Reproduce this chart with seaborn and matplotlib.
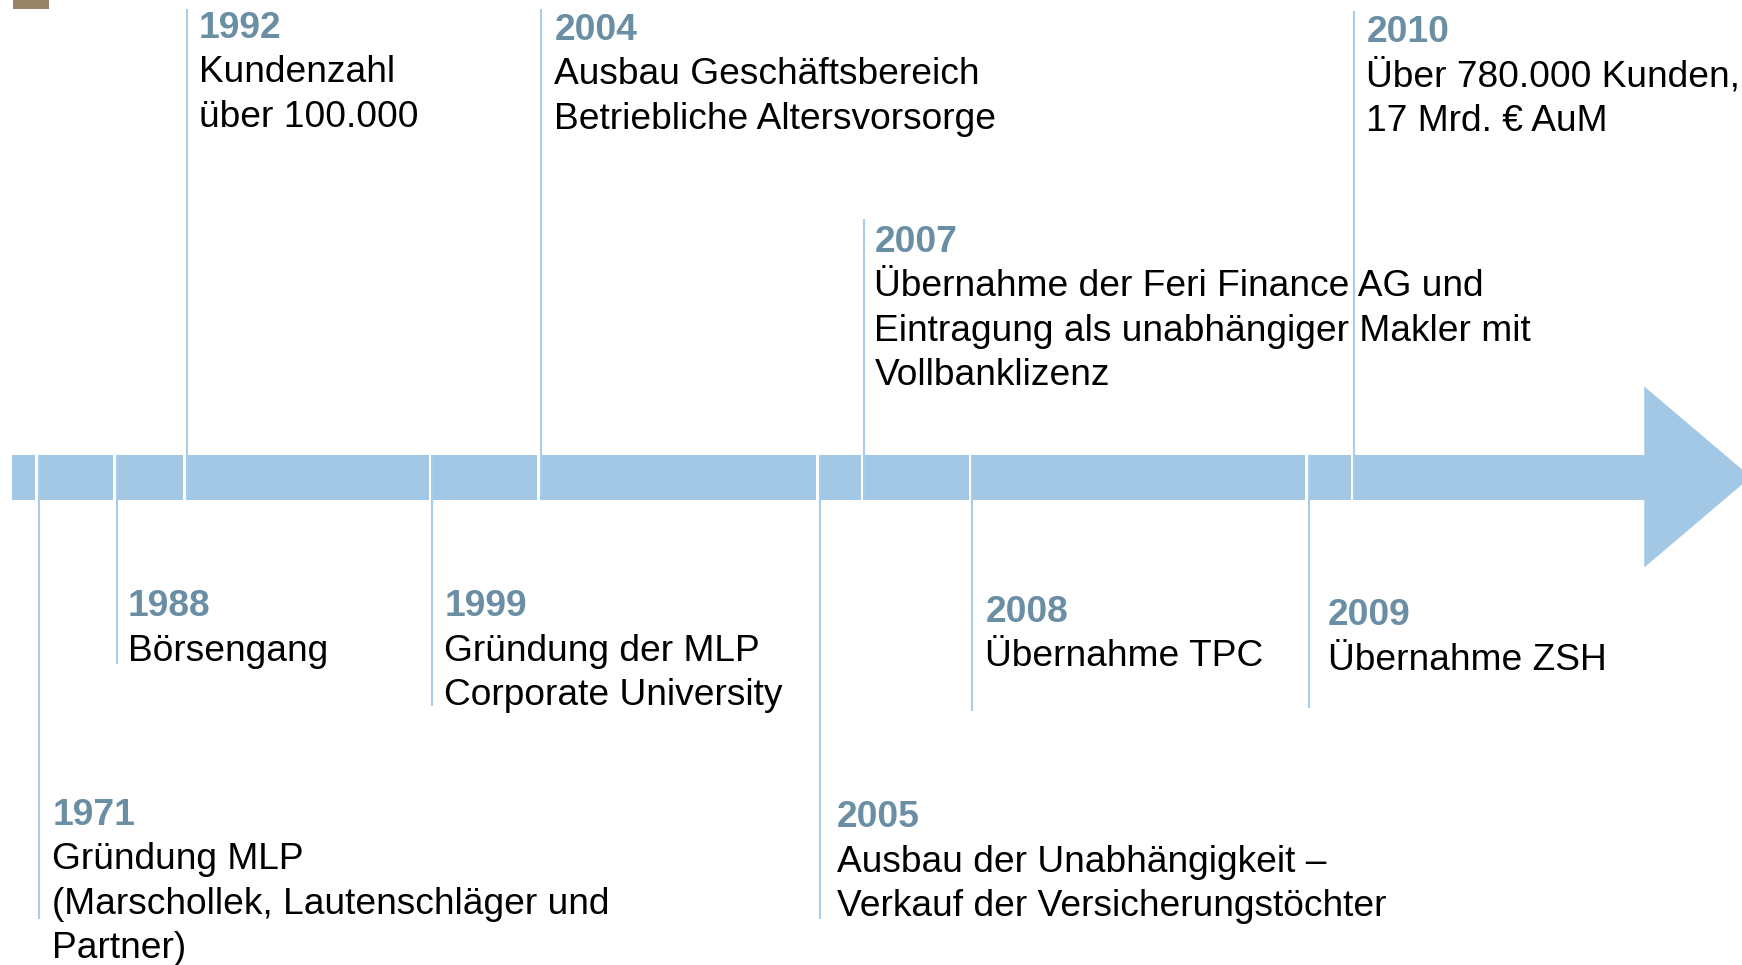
import matplotlib
matplotlib.use("Agg")
import matplotlib.pyplot as plt
from matplotlib.patches import Rectangle, Polygon
import seaborn as sns

# Daten: Meilensteine der MLP-Historie
years = ['1971', '1988', '1992', '1999', '2004', '2005', '2007', '2008', '2009', '2010']
texts = [
    ['Gründung MLP', '(Marschollek, Lautenschläger und', 'Partner)'],
    ['Börsengang'],
    ['Kundenzahl', 'über 100.000'],
    ['Gründung der MLP', 'Corporate University'],
    ['Ausbau Geschäftsbereich', 'Betriebliche Altersvorsorge'],
    ['Ausbau der Unabhängigkeit –', 'Verkauf der Versicherungstöchter'],
    ['Übernahme der Feri Finance AG und', 'Eintragung als unabhängiger Makler mit', 'Vollbanklizenz'],
    ['Übernahme TPC'],
    ['Übernahme ZSH'],
    ['Über 780.000 Kunden,', '17 Mrd. € AuM'],
]

# Layout (Bildkoordinaten, 1568 x 869 Raster)
line_x = [35, 105, 168, 389, 487, 738, 778, 875, 1178, 1219]
line_end = [828, 598, 8, 636, 8, 828, 197, 640, 638, 10]
text_x = [47, 115, 179, 400, 499, 753, 787, 887, 1195, 1230]
year_y = [731, 543, 22, 543, 24, 733, 215, 548, 551, 26]

bar_top, bar_bottom = 410, 450
bar_left, head_x = 11, 1481
head_top, head_bottom, tip_x = 348, 511, 1576

bar_color = '#a3c8e6'
line_color = '#a8cceb'
year_color = '#6a8ea3'

sns.set_theme(style='white')
plt.rcParams['font.family'] = ['Liberation Sans', 'DejaVu Sans']

fig = plt.figure(figsize=(17.42, 9.65), dpi=100)
ax = fig.add_axes([0, 0, 1, 1])
ax.set_xlim(0, 1568)
ax.set_ylim(869, 0)
ax.axis('off')

# Pfeil (Zeitstrahl)
ax.add_patch(Rectangle((bar_left, bar_top), head_x - bar_left, bar_bottom - bar_top,
                       facecolor=bar_color, edgecolor='none', zorder=1))
mid = (head_top + head_bottom) / 2
ax.add_patch(Polygon([(head_x - 1, head_top), (tip_x, mid), (head_x - 1, head_bottom)],
                     closed=True, facecolor=bar_color, edgecolor='none', zorder=1))

# kleines Quadrat oben links
ax.add_patch(Rectangle((12, 0), 32, 8, facecolor='#968469', edgecolor='none', zorder=1))

for i, yr in enumerate(years):
    x = line_x[i]
    # weisse Trennfuge im Balken
    ax.add_patch(Rectangle((x - 3.2, bar_top - 0.5), 2.4, bar_bottom - bar_top + 1,
                           facecolor='white', edgecolor='none', zorder=2))
    if line_end[i] < bar_top:
        y0, y1 = line_end[i], bar_bottom
    else:
        y0, y1 = bar_top, line_end[i]
    ax.plot([x, x], [y0, y1], color=line_color, lw=1.5, zorder=3, solid_capstyle='butt')

    base = year_y[i] + 12
    ax.text(text_x[i], base, yr, fontsize=26.8, fontweight='bold', color=year_color,
            ha='left', va='baseline', zorder=4)
    for k, line in enumerate(texts[i]):
        ax.text(text_x[i], base + 40 * (k + 1), line, fontsize=26.7, color='black',
                ha='left', va='baseline', zorder=4)

fig.savefig('out.png', dpi=100, facecolor='white')
